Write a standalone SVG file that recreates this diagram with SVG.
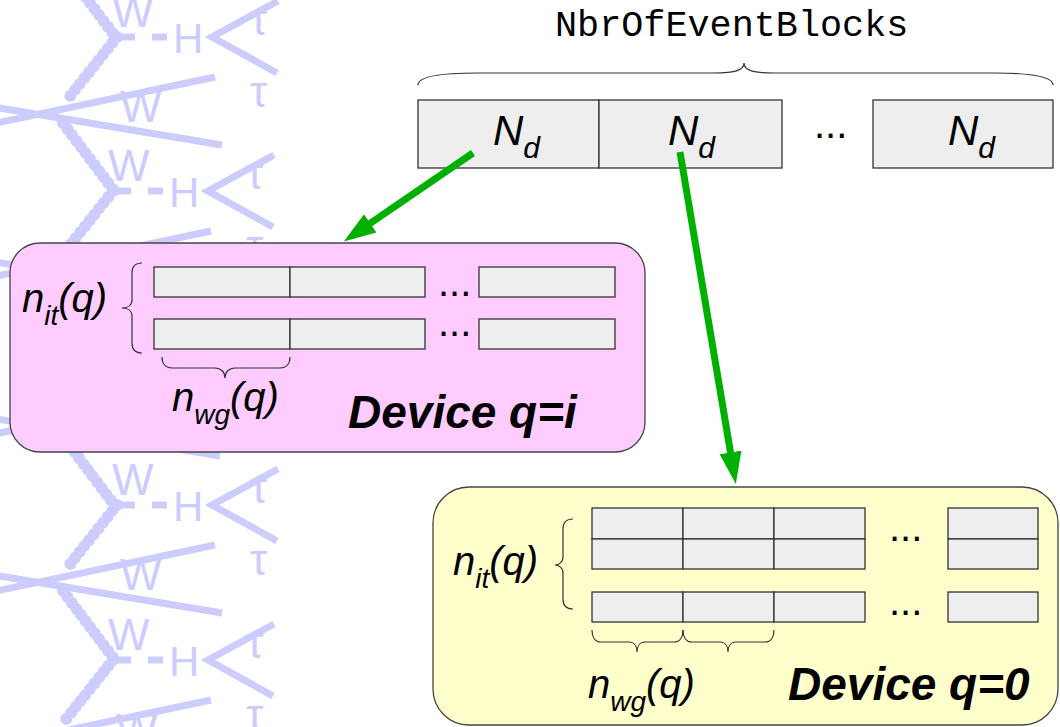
<svg xmlns="http://www.w3.org/2000/svg" width="1060" height="727" viewBox="0 0 1060 727">
  <defs>
    <style>
      .wq { stroke: #ccccff; stroke-width: 7; fill: none; }
      .gl { stroke: #ccccff; stroke-width: 6; fill: none; }
      .gb { stroke: #ccccff; stroke-width: 12; stroke-linecap: round; stroke-dasharray: 0 7.5; fill: none; }
      .wt { fill: #ccccff; font-family: "Liberation Sans", Arial, sans-serif; font-size: 44px; }
      .cell { fill: #eeeeee; stroke: #333333; stroke-width: 1.3; }
      .brace { fill: none; stroke: #333333; stroke-width: 1.2; }
      .math { font-family: "Liberation Sans", Arial, sans-serif; font-style: italic; font-size: 40px; fill: #000000; }
      .sub { font-size: 28px; }
      .nd { font-family: "Liberation Sans", Arial, sans-serif; font-style: italic; font-size: 42px; fill: #000000; }
      .dev { font-family: "Liberation Sans", Arial, sans-serif; font-style: italic; font-weight: bold; font-size: 46px; fill: #000000; }
      .dots { font-family: "Liberation Sans", Arial, sans-serif; font-size: 40px; fill: #000000; }
      .mono { font-family: "Liberation Mono", "Courier New", monospace; font-size: 36.8px; fill: #000000; }
      .arrow { stroke: #00b000; stroke-width: 7; fill: none; }
    </style>
    <marker id="head" markerUnits="userSpaceOnUse" markerWidth="34" markerHeight="24" viewBox="0 -12 34 24" refX="1" refY="0" orient="auto">
      <path d="M0,-11 L32,0 L0,11 z" fill="#00b000"/>
    </marker>
    <!-- one repeat of the background Feynman-graph pattern, origin at the W-H vertex -->
    <g id="tile">
      <text class="wt" x="-5" y="-10">W</text>
      <text class="wt" x="3" y="85">W</text>
      <text class="wt" x="56" y="16" style="font-size:42px">H</text>
      <text class="wt" x="133" y="-2">τ</text>
      <text class="wt" x="133" y="70">τ</text>
      <line class="wq" x1="-4" y1="0" x2="18" y2="0"/>
      <line class="wq" x1="35" y1="0" x2="50" y2="0"/>
      <path class="wq" d="M161,-36 L95,0 L160,36"/>
      <line class="wq" x1="-130" y1="88" x2="98" y2="40"/>
      <line class="wq" x1="-130" y1="69" x2="105" y2="108"/>
      <path class="gl" d="M0,0 L-50,63 M-54,86 L-2,155"/>
      <path class="gb" d="M0,0 L-50,63 M-54,86 L-2,155"/>
    </g>
  </defs>

  <rect x="0" y="0" width="1060" height="727" fill="#ffffff"/>

  <!-- background pattern -->
  <g id="background">
    <use href="#tile" x="117" y="-119"/>
    <use href="#tile" x="117" y="37"/>
    <use href="#tile" x="113" y="191"/>
    <use href="#tile" x="115" y="348"/>
    <use href="#tile" x="117" y="505"/>
    <use href="#tile" x="113" y="660"/>
  </g>

  <!-- event blocks row -->
  <g id="event-blocks">
    <text class="mono" x="555" y="36">NbrOfEventBlocks</text>
    <path class="brace" d="M418,85 C418,77 440,73 478,73 L714,73 C736,73 744,70 744,63 C744,70 752,73 774,73 L995,73 C1035,73 1053,77 1053,85"/>
    <rect class="cell" x="418" y="100" width="181" height="68"/>
    <rect class="cell" x="599" y="100" width="183" height="68"/>
    <rect class="cell" x="873" y="100" width="180" height="68"/>
    <text class="nd" x="493" y="145">N<tspan style="font-size:30px" dy="13">d</tspan></text>
    <text class="nd" x="668" y="145">N<tspan style="font-size:30px" dy="13">d</tspan></text>
    <text class="nd" x="948" y="145">N<tspan style="font-size:30px" dy="13">d</tspan></text>
    <text class="dots" x="814" y="138">...</text>
  </g>

  <!-- device q=i -->
  <g id="device-i">
    <rect x="10" y="243" width="635" height="209" rx="30" ry="30" fill="#ffccff" stroke="#444444" stroke-width="1.3"/>
    <rect class="cell" x="154" y="267" width="136" height="30"/>
    <rect class="cell" x="290" y="267" width="135" height="30"/>
    <rect class="cell" x="479" y="267" width="136" height="30"/>
    <rect class="cell" x="154" y="319" width="136" height="30"/>
    <rect class="cell" x="290" y="319" width="135" height="30"/>
    <rect class="cell" x="479" y="319" width="136" height="30"/>
    <text class="dots" x="438" y="296">...</text>
    <text class="dots" x="438" y="336">...</text>
    <path class="brace" d="M142,263 C135,263 132,267 132,273 L132,300 C132,305 128,308 122,308 C128,308 132,311 132,316 L132,343 C132,349 135,353 142,353"/>
    <path class="brace" d="M162,357 C162,364 166,368 172,368 L215,368 C221,368 225,372 225,378 C225,372 229,368 235,368 L280,368 C286,368 290,364 290,357"/>
    <text class="math" x="22" y="312">n<tspan class="sub" dy="13">it</tspan><tspan dy="-13">(q)</tspan></text>
    <text class="math" x="172" y="411">n<tspan class="sub" dy="13">wg</tspan><tspan dy="-13">(q)</tspan></text>
    <text class="dev" x="348" y="428">Device q=i</text>
  </g>

  <!-- device q=0 -->
  <g id="device-0">
    <rect x="433" y="487" width="625" height="238" rx="36" ry="36" fill="#ffffcc" stroke="#444444" stroke-width="1.3"/>
    <rect class="cell" x="592" y="508" width="91" height="31"/>
    <rect class="cell" x="683" y="508" width="91" height="31"/>
    <rect class="cell" x="774" y="508" width="91" height="31"/>
    <rect class="cell" x="948" y="508" width="90" height="31"/>
    <rect class="cell" x="592" y="539" width="91" height="30"/>
    <rect class="cell" x="683" y="539" width="91" height="30"/>
    <rect class="cell" x="774" y="539" width="91" height="30"/>
    <rect class="cell" x="948" y="539" width="90" height="30"/>
    <rect class="cell" x="592" y="592" width="91" height="30"/>
    <rect class="cell" x="683" y="592" width="91" height="30"/>
    <rect class="cell" x="774" y="592" width="91" height="30"/>
    <rect class="cell" x="948" y="592" width="90" height="30"/>
    <text class="dots" x="889" y="541">...</text>
    <text class="dots" x="889" y="615">...</text>
    <path class="brace" d="M573,519 C566,519 563,523 563,529 L563,557 C563,562 559,565 555,565 C559,565 563,568 563,573 L563,599 C563,605 566,609 573,609"/>
    <path class="brace" d="M592,630 C592,637 595,642 601,642 L629,642 C634,642 637,646 637,652 C637,646 640,642 645,642 L674,642 C680,642 683,637 683,630"/>
    <path class="brace" d="M683,630 C683,637 686,642 692,642 L720,642 C725,642 728,646 728,652 C728,646 731,642 736,642 L765,642 C771,642 774,637 774,630"/>
    <text class="math" x="453" y="575">n<tspan class="sub" dy="13">it</tspan><tspan dy="-13">(q)</tspan></text>
    <text class="math" x="588" y="698">n<tspan class="sub" dy="13">wg</tspan><tspan dy="-13">(q)</tspan></text>
    <text class="dev" x="788" y="700">Device q=0</text>
  </g>

  <!-- distribution arrows -->
  <g id="connectors">
    <line class="arrow" x1="473" y1="153" x2="369.4" y2="223.9" marker-end="url(#head)"/>
    <line class="arrow" x1="680" y1="152" x2="730.7" y2="453.4" marker-end="url(#head)"/>
  </g>
</svg>
